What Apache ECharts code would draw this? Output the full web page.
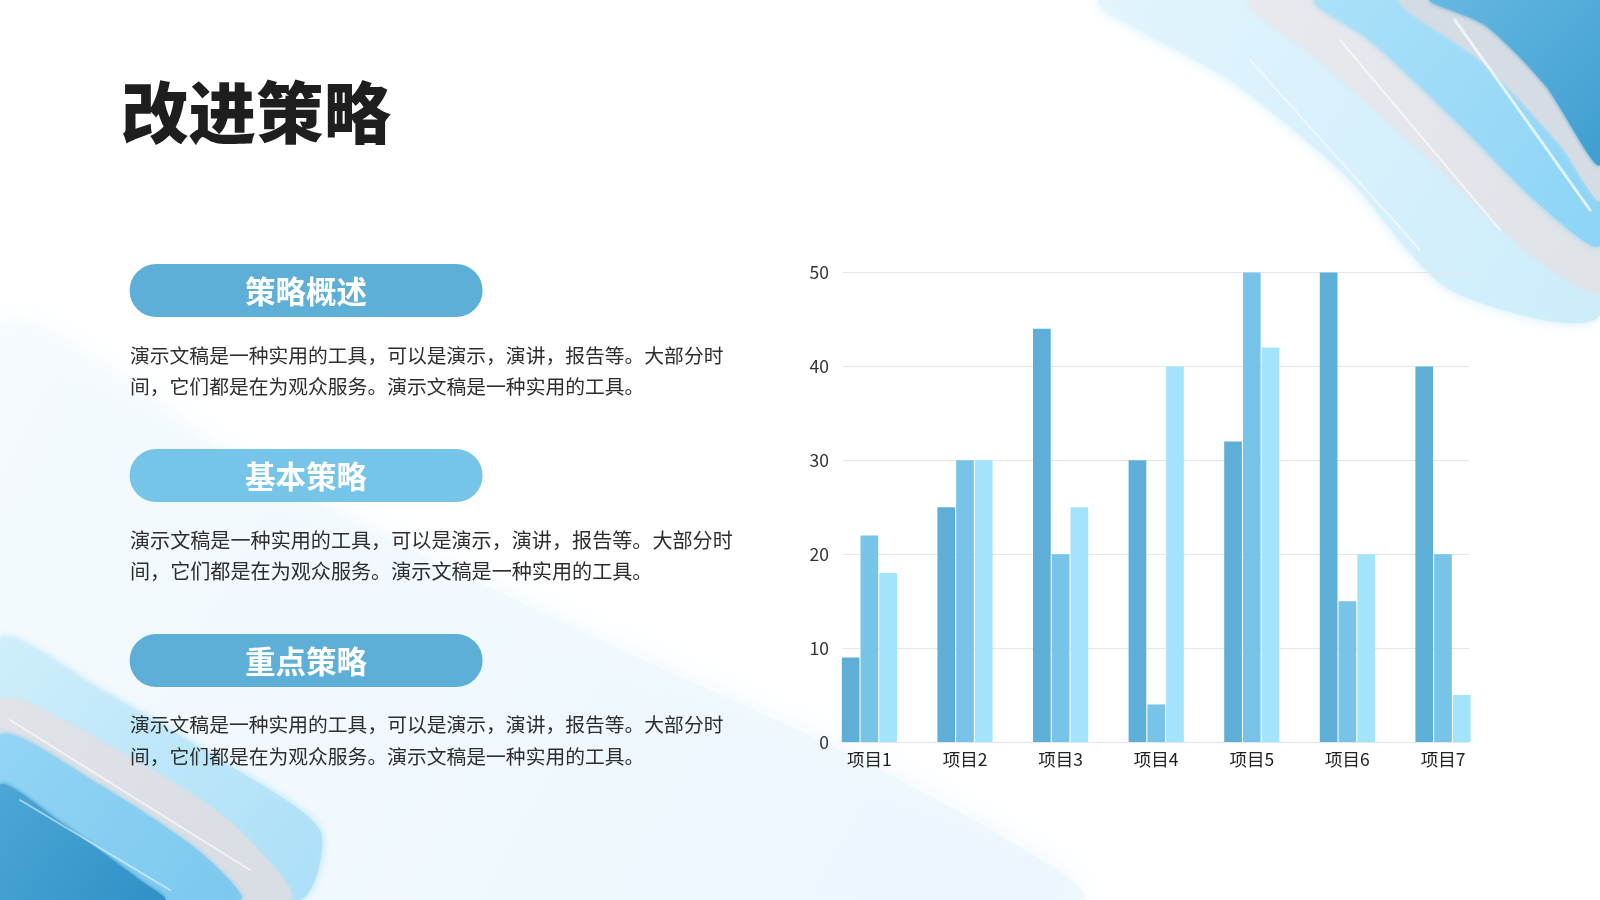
<!DOCTYPE html>
<html>
<head>
<meta charset="utf-8">
<script src="https://cdn.jsdelivr.net/npm/echarts/dist/echarts.min.js"></script>
<style>
  html, body { margin: 0; padding: 0; background: #fff; }
  #main { width: 1600px; height: 900px; }
</style>
</head>
<body>
<div id="main"></div>
<script>
// chart data
var categories = ['项目1', '项目2', '项目3', '项目4', '项目5', '项目6', '项目7'];
var series1 = [9, 25, 44, 30, 32, 50, 40];
var series2 = [22, 30, 20, 4, 50, 15, 20];
var series3 = [18, 30, 25, 40, 42, 20, 5];
var yTicks = [0, 10, 20, 30, 40, 50];

// slide texts
var pageTitle = '改进策略';
var sectionTitles = ['策略概述', '基本策略', '重点策略'];
var bodyLines = ['演示文稿是一种实用的工具，可以是演示，演讲，报告等。大部分时',
                 '间，它们都是在为观众服务。演示文稿是一种实用的工具。'];

var colors = ['#5eafd7', '#77c4e8', '#a3e3fb'];
var pillColors = ['#5eafd7', '#76c4e7', '#5eafd7'];
var font = '"Noto Sans CJK SC", "Noto Sans", sans-serif';

var chart = echarts.init(document.getElementById('main'));

// brush stroke decoration
function stroke(points, c1, c2, op, blur) {
    return {
        type: 'polygon', silent: true, z: -10,
        shape: { points: points, smooth: 0.25 },
        style: {
            fill: new echarts.graphic.LinearGradient(0, 0, 1, 1, [
                { offset: 0, color: c1 }, { offset: 1, color: c2 }]),
            opacity: op,
            shadowBlur: blur || 0, shadowColor: c2
        }
    };
}

function streak(x1, y1, x2, y2, w, c, op) {
    return {
        type: 'line', silent: true, z: -9,
        shape: { x1: x1, y1: y1, x2: x2, y2: y2 },
        style: { stroke: c, lineWidth: w, opacity: op, lineCap: 'round' }
    };
}

var deco = [
    // faint wash over the left side
    stroke([[0, 330], [250, 470], [600, 640], [900, 780], [1080, 900], [0, 900]], '#f6fbfe', '#eaf6fd', 0.8, 30),
    // top right sweep
    stroke([[1100, 0], [1600, 0], [1600, 315], [1450, 290], [1345, 175], [1230, 80]], '#e4f5fd', '#cbecfb', 0.9, 12),
    stroke([[1250, 0], [1600, 0], [1600, 290], [1520, 245], [1420, 150], [1320, 60]], '#e9eaee', '#dfe2e7', 0.9, 6),
    stroke([[1315, 0], [1600, 0], [1600, 245], [1540, 205], [1460, 125], [1370, 40]], '#aee2f9', '#8ad3f6', 0.9, 6),
    stroke([[1400, 0], [1600, 0], [1600, 200], [1560, 145], [1480, 60]], '#d3dbe3', '#d9dde4', 0.85, 4),
    stroke([[1430, 0], [1600, 0], [1600, 165], [1545, 85], [1485, 25]], '#68bae2', '#3d9dcf', 0.95, 4),
    streak(1455, 20, 1590, 210, 3, '#ffffff', 0.7),
    streak(1340, 40, 1500, 230, 2, '#ffffff', 0.6),
    streak(1250, 60, 1420, 250, 2, '#ffffff', 0.5),
    // bottom left sweep
    stroke([[0, 640], [100, 690], [220, 760], [320, 830], [300, 900], [0, 900]], '#d3f0fc', '#a9def7', 0.9, 8),
    stroke([[0, 700], [120, 752], [230, 822], [290, 900], [0, 900]], '#e1e3e8', '#d9dde3', 0.9, 5),
    stroke([[0, 735], [100, 785], [200, 852], [240, 900], [0, 900]], '#95d6f6', '#79c8ee', 0.9, 5),
    stroke([[0, 785], [60, 822], [140, 880], [165, 900], [0, 900]], '#4ea9d8', '#2f8fc4', 0.95, 4),
    streak(10, 720, 250, 870, 2, '#ffffff', 0.6),
    streak(20, 800, 170, 890, 2, '#ffffff', 0.5)
];

var texts = [
    {
        type: 'text', z: 10, x: 121, y: 112,
        style: { text: pageTitle, font: '900 67.5px ' + font, fill: '#1e1e1e', verticalAlign: 'middle' }
    }
];
var pillTops = [264, 449, 634];
var bodyTops = [355, 540, 724.5];
var bodySizes = [19.8, 20.1, 19.8];
sectionTitles.forEach(function (t, i) {
    texts.push({
        type: 'rect', left: 129.6, top: pillTops[i], z: 5,
        shape: { width: 353, height: 53, r: 26.5 },
        style: { fill: pillColors[i] }
    });
    texts.push({
        type: 'text', z: 6,
        x: 306, y: pillTops[i] + 27,
        style: { text: t, font: 'bold 30.5px ' + font, fill: '#ffffff', align: 'center', verticalAlign: 'middle' }
    });
    bodyLines.forEach(function (line, j) {
        texts.push({
            type: 'text', z: 6,
            x: 130, y: bodyTops[i] + j * 31.6,
            style: { text: line, font: bodySizes[i] + 'px ' + font, fill: '#2e2e2e', verticalAlign: 'middle' }
        });
    });
});

var option = {
    backgroundColor: '#ffffff',
    animation: false,
    textStyle: { fontFamily: font },
    graphic: deco.concat(texts),
    grid: [
        { left: 843, right: 131, top: 272.5, bottom: 158 },
        { left: 821.6, right: 109.2, top: 272.5, bottom: 158 }
    ],
    xAxis: [
        { type: 'category', gridIndex: 0, data: categories, show: false },
        {
            type: 'category', gridIndex: 1, data: categories,
            axisLine: { show: false }, axisTick: { show: false },
            axisLabel: { color: '#222', fontSize: 17.5, margin: 9 }
        }
    ],
    yAxis: [
        {
            type: 'value', gridIndex: 0, min: yTicks[0], max: yTicks[yTicks.length - 1], interval: 10,
            axisLine: { show: false }, axisTick: { show: false },
            axisLabel: { color: '#333', fontSize: 17.5, margin: 14 },
            splitLine: { lineStyle: { color: '#e6e6e6', width: 1.2 } }
        },
        { type: 'value', gridIndex: 1, min: 0, max: 50, show: false, splitLine: { show: false } }
    ],
    series: [series1, series2, series3].map(function (d, i) {
        return {
            type: 'bar', xAxisIndex: 1, yAxisIndex: 1, data: d,
            barWidth: 17.7, barGap: '6%',
            itemStyle: { color: colors[i] }
        };
    })
};

chart.setOption(option);
</script>
</body>
</html>
